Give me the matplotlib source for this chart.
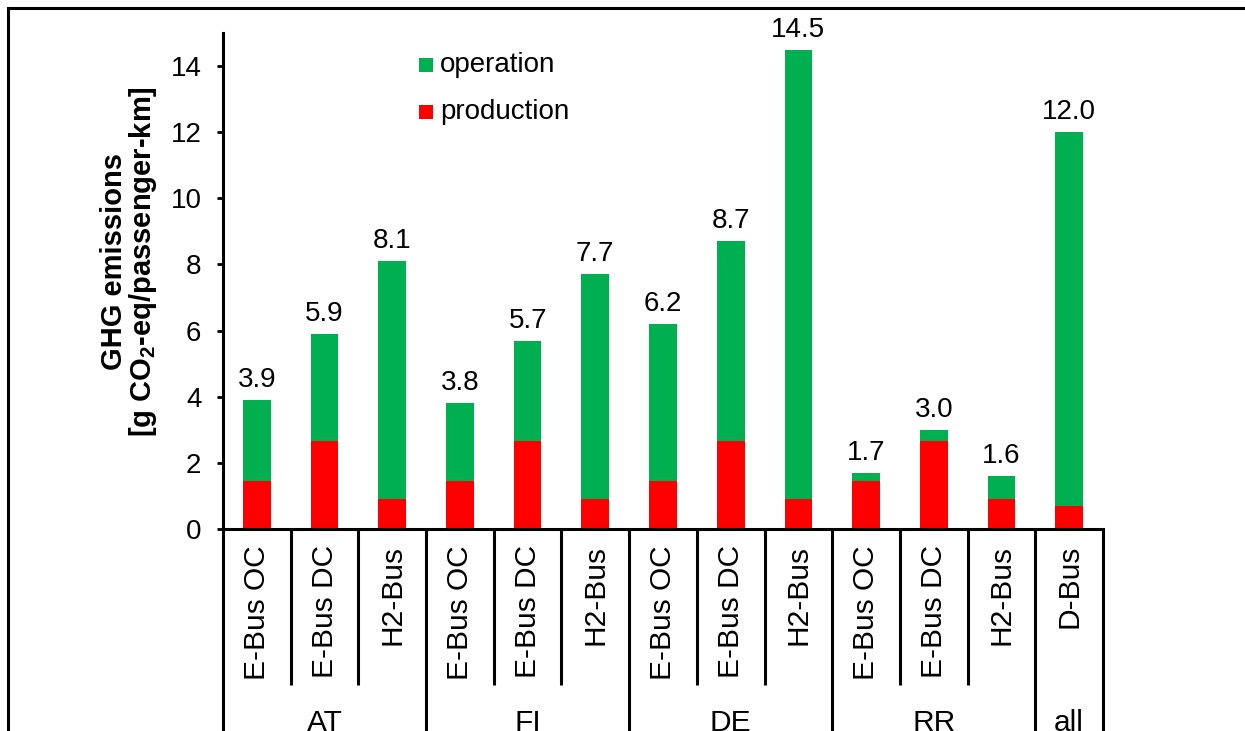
import matplotlib
matplotlib.use("Agg")
import matplotlib.pyplot as plt
from matplotlib.lines import Line2D
from matplotlib.patches import Rectangle
import matplotlib.transforms as mtransforms

# ---------------- data ----------------
groups = ["AT", "FI", "DE", "RR", "all"]
group_sizes = [3, 3, 3, 3, 1]
bus_labels = ["E-Bus OC", "E-Bus DC", "H2-Bus",
              "E-Bus OC", "E-Bus DC", "H2-Bus",
              "E-Bus OC", "E-Bus DC", "H2-Bus",
              "E-Bus OC", "E-Bus DC", "H2-Bus",
              "D-Bus"]
production = [1.45, 2.65, 0.9,
              1.45, 2.65, 0.9,
              1.45, 2.65, 0.9,
              1.45, 2.65, 0.9,
              0.7]
operation = [2.45, 3.25, 7.2,
             2.35, 3.05, 6.8,
             4.75, 6.05, 13.6,
             0.25, 0.35, 0.7,
             11.3]
series_names = ["production", "operation"]
yticks = [0, 2, 4, 6, 8, 10, 12, 14]

# ---------------- style ----------------
plt.rcParams['font.family'] = ['Liberation Sans', 'DejaVu Sans']
plt.rcParams['mathtext.fontset'] = 'custom'
plt.rcParams['mathtext.rm'] = 'Liberation Sans'
plt.rcParams['mathtext.bf'] = 'Liberation Sans:bold'
FS = 20
FS_CAT = 21.5
FS_YL = 21
GREEN = '#00B050'
RED = '#FF0000'
W, H = 1245, 731

fig = plt.figure(figsize=(W / 100, H / 100), dpi=100)

def fx(px):
    return px / W

def fy(py):
    return (H - py) / H

ax = fig.add_axes([fx(223), fy(529), fx(1103) - fx(223), fy(33) - fy(529)])

x = list(range(len(bus_labels)))
ax.bar(x, production, width=0.41, color=RED, zorder=2)
ax.bar(x, operation, width=0.41, bottom=production, color=GREEN, zorder=2)

totals = [p + o for p, o in zip(production, operation)]
for xi, t in zip(x, totals):
    ax.annotate(f"{t:.1f}", (xi, t), xytext=(0, 5), textcoords='offset points',
                ha='center', va='bottom', fontsize=FS)

ax.set_xlim(-0.5, len(bus_labels) - 0.5)
ax.set_ylim(0, 15)
ax.set_yticks(yticks)
ax.tick_params(axis='y', direction='out', length=4.5, width=2, labelsize=FS, pad=11)
ax.set_xticks([])
for s in ['top', 'right']:
    ax.spines[s].set_visible(False)
for s in ['left', 'bottom']:
    ax.spines[s].set_linewidth(2.2)

# ---------------- category axis ----------------
bt = mtransforms.blended_transform_factory(ax.transData, fig.transFigure)
for xi, lab in zip(x, bus_labels):
    ax.text(xi, fy(545), lab, transform=bt, rotation=90, ha='center', va='top',
            fontsize=FS_CAT, clip_on=False)

# dividers
pos = 0
group_edges = [-0.5]
for g in group_sizes:
    pos += g
    group_edges.append(pos - 0.5)
for k in range(len(bus_labels) + 1):
    xb = k - 0.5
    y0 = -0.02 if xb in group_edges else fy(685)
    ax.add_line(Line2D([xb, xb], [fy(529), y0], transform=bt, color='black',
                       lw=2.2, clip_on=False, solid_capstyle='butt'))

start = 0
for g, n in zip(groups, group_sizes):
    cx = start + (n - 1) / 2
    ax.text(cx, fy(709), g, transform=bt, ha='center', va='top', fontsize=FS_CAT,
            clip_on=False)
    start += n

# ---------------- y label ----------------
fig.text(fx(114), fy(262), "GHG emissions", rotation=90, ha='center', va='center',
         fontsize=FS_YL, fontweight='bold')
fig.text(fx(143), fy(262), r"[g CO$_\mathbf{2}$-eq/passenger-km]", rotation=90,
         ha='center', va='center', fontsize=FS_YL, fontweight='bold')

# ---------------- legend ----------------
leg_items = [("operation", GREEN, 65), ("production", RED, 112)]
for name, col, yc in leg_items:
    fig.patches.append(Rectangle((fx(419), fy(yc + 7)), fx(433) - fx(419),
                                 fy(yc - 7) - fy(yc + 7), transform=fig.transFigure,
                                 facecolor=col, edgecolor='none'))
    fig.text(fx(440), fy(yc), name, ha='left', va='center', fontsize=FS)

# ---------------- outer border (top & left) ----------------
fig.add_artist(Line2D([fx(8), 1.0], [fy(8), fy(8)], transform=fig.transFigure,
                      color='black', lw=2.2))
fig.add_artist(Line2D([fx(8), fx(8)], [fy(8), 0.0], transform=fig.transFigure,
                      color='black', lw=2.2))

fig.savefig("out.png", dpi=100)
